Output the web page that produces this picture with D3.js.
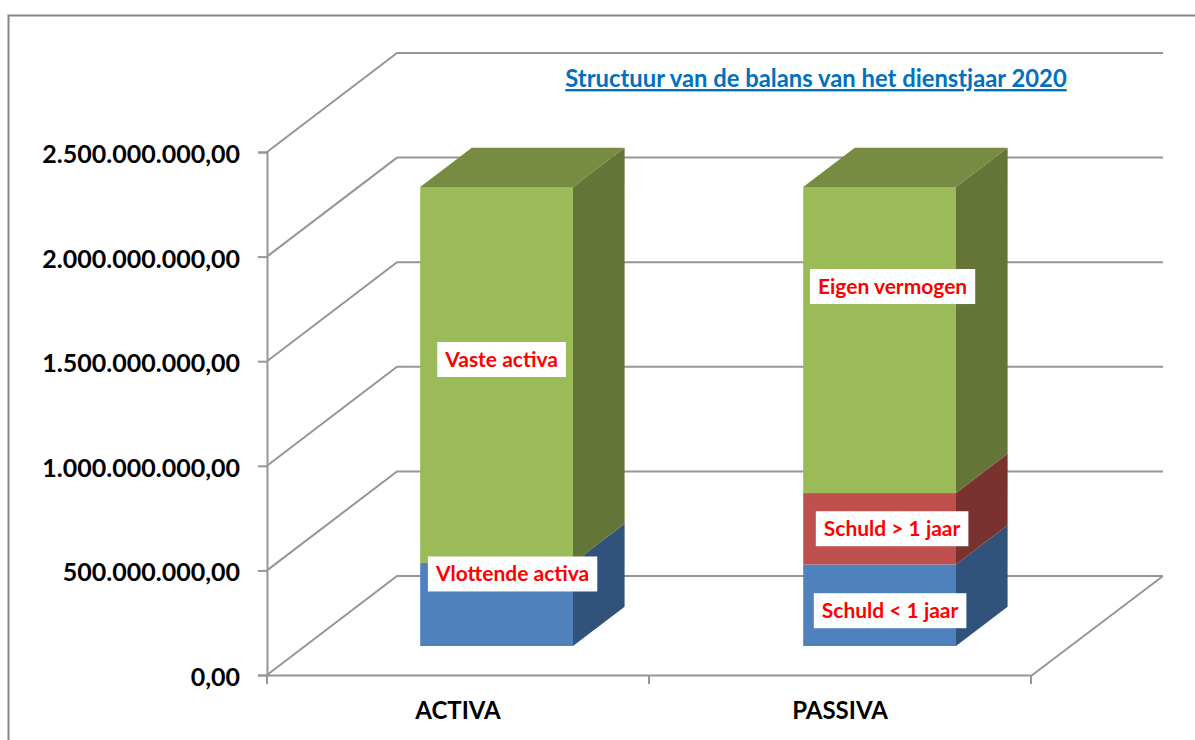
<!DOCTYPE html>
<html>
<head>
<meta charset="utf-8">
<script src="https://cdn.jsdelivr.net/npm/d3@7"></script>
<style>
  html, body { margin: 0; padding: 0; background: #fff; }
  svg { display: block; }
  svg text { font-family: Lato, "Noto Sans", sans-serif; font-weight: 700; }
</style>
</head>
<body>
<div id="chart"></div>
<script>
// values
const categories = ["ACTIVA", "PASSIVA"];
const seriesKeys = ["kort", "lang", "vast"];
const kortValues = [397000000, 390000000];
const langValues = [0, 341000000];
const vastValues = [1797000000, 1463000000];
const kortLabels = ["Vlottende activa", "Schuld < 1 jaar"];
const langLabels = ["", "Schuld > 1 jaar"];
const vastLabels = ["Vaste activa", "Eigen vermogen"];
const yTicks = [0, 500000000, 1000000000, 1500000000, 2000000000, 2500000000];
const titleText = "Structuur van de balans van het dienstjaar 2020";

const WIDTH = 1195;
const HEIGHT = 740;
const PLOT = { left: 267, right: 1031, top: 152, bottom: 675 };
// floor depth of the fake 3D box
const DEPTH = { x: 130, y: -99 };
// where the bars sit inside that depth, as a fraction
const BAR_FRONT = 0.293;
const BAR_BACK = 0.69;

const COLORS = {
  kort: { front: "#4f81bd", side: "#31527a" },
  lang: { front: "#c0504d", side: "#7a322f" },
  vast: { front: "#9bbb59", side: "#647537", top: "#778c42" }
};

// labels were dragged by hand in the original, so they are nudged off the centre
const NUDGE = {
  kort: [[16, -30.5], [10.5, 5.5]],
  lang: [[0, 0], [12.5, 0]],
  vast: [[5, -15.5], [13, -53.5]]
};

const labelsByKey = { kort: kortLabels, lang: langLabels, vast: vastLabels };

const rows = categories.map((c, i) => ({
  category: c, index: i, kort: kortValues[i], lang: langValues[i], vast: vastValues[i]
}));

const stacked = d3.stack().keys(seriesKeys)(rows);

const x = d3.scaleBand()
  .domain(categories)
  .range([PLOT.left, PLOT.right]);

// the bars run a touch wider than the axis in the original
const xBars = d3.scaleBand()
  .domain(categories)
  .range([PLOT.left, PLOT.right + 2]);

const y = d3.scaleLinear()
  .domain([0, 2500000000])
  .range([PLOT.bottom, PLOT.top]);

const nl = d3.formatLocale({ decimal: ",", thousands: ".", grouping: [3], currency: ["€", ""] });
const barWidth = x.bandwidth() * 0.4;

const svg = d3.select("#chart")
  .append("svg")
  .attr("width", WIDTH)
  .attr("height", HEIGHT)
  .attr("viewBox", "0 0 " + WIDTH + " " + HEIGHT);

// outer frame, runs off the right and bottom of the picture
svg.append("path")
  .attr("d", "M8.5," + HEIGHT + "V15.5H" + WIDTH)
  .attr("fill", "none")
  .attr("stroke", "#868686")
  .attr("stroke-width", 2);

// gridlines: up the left wall, then along the back wall
svg.append("g")
  .selectAll("path")
  .data(yTicks)
  .join("path")
  .attr("d", d => d3.line()([
    [PLOT.left, y(d)],
    [PLOT.left + DEPTH.x, y(d) + DEPTH.y],
    [PLOT.right + DEPTH.x + 2, y(d) + DEPTH.y]
  ]))
  .attr("fill", "none")
  .attr("stroke", "#969696")
  .attr("stroke-width", 2);

// right edge of the floor
svg.append("path")
  .attr("d", d3.line()([
    [PLOT.right, y(0) + 1],
    [PLOT.right + DEPTH.x + 2, y(0) + DEPTH.y]
  ]))
  .attr("fill", "none")
  .attr("stroke", "#969696")
  .attr("stroke-width", 2);

const yAxis = svg.append("g")
  .attr("transform", "translate(" + PLOT.left + ",0)")
  .call(d3.axisLeft(y).tickValues(yTicks).tickFormat(nl.format(",.2f")).tickSize(9).tickPadding(18));

const xAxis = svg.append("g")
  .attr("transform", "translate(0," + PLOT.bottom + ")")
  .call(d3.axisBottom(x).tickValues([]).tickSizeOuter(0));

// band edges get the tick marks, the names sit in the middle of the band
xAxis.selectAll(".edge")
  .data([PLOT.left, x(categories[1]), PLOT.right])
  .join("line")
  .attr("class", "edge")
  .attr("x1", d => d)
  .attr("x2", d => d)
  .attr("y1", 0)
  .attr("y2", 9);

xAxis.selectAll(".name")
  .data(categories)
  .join("text")
  .attr("class", "name")
  .attr("x", d => x(d) + x.bandwidth() / 2)
  .attr("y", 44)
  .attr("text-anchor", "middle")
  .text(d => d);

svg.selectAll(".domain, .tick line, .edge")
  .attr("stroke", "#969696")
  .attr("stroke-width", 2);

yAxis.selectAll("text")
  .attr("fill", "#000")
  .attr("dy", "0.42em")
  .style("font-size", "25px");

xAxis.selectAll("text")
  .attr("fill", "#000")
  .style("font-size", "24px");

// project a value at a given depth fraction onto the screen
function px(category, offset, depth) {
  return xBars(category) + xBars.bandwidth() / 2 + offset + DEPTH.x * depth;
}
function py(value, depth) {
  return y(value) + DEPTH.y * depth;
}

const bars = svg.append("g");

stacked.forEach(function(layer) {
  const key = layer.key;
  layer.forEach(function(d) {
    if (d[1] === d[0]) return;
    const c = d.data.category;
    const xl = px(c, -barWidth / 2, BAR_FRONT);
    const xr = px(c, barWidth / 2, BAR_FRONT);
    const xbr = px(c, barWidth / 2, BAR_BACK);
    const xbl = px(c, -barWidth / 2, BAR_BACK);

    // right side
    bars.append("path")
      .attr("d", d3.line()([
        [xr, py(d[0], BAR_FRONT)], [xbr, py(d[0], BAR_BACK)],
        [xbr, py(d[1], BAR_BACK)], [xr, py(d[1], BAR_FRONT)]
      ]) + "Z")
      .attr("fill", COLORS[key].side);

    // front
    bars.append("rect")
      .attr("x", xl)
      .attr("y", py(d[1], BAR_FRONT))
      .attr("width", barWidth)
      .attr("height", y(d[0]) - y(d[1]))
      .attr("fill", COLORS[key].front);

    // only the last series shows its top
    if (COLORS[key].top) {
      bars.append("path")
        .attr("d", d3.line()([
          [xl, py(d[1], BAR_FRONT)], [xr, py(d[1], BAR_FRONT)],
          [xbr, py(d[1], BAR_BACK)], [xbl, py(d[1], BAR_BACK)]
        ]) + "Z")
        .attr("fill", COLORS[key].top);
    }
  });
});

// data labels go last so they cover the bars
const labels = svg.append("g");

stacked.forEach(function(layer) {
  const key = layer.key;
  layer.forEach(function(d) {
    const i = d.data.index;
    const name = labelsByKey[key][i];
    if (!name) return;
    const cx = px(d.data.category, 0, BAR_FRONT) + NUDGE[key][i][0];
    const cy = py((d[0] + d[1]) / 2, BAR_FRONT) + NUDGE[key][i][1];

    const box = labels.append("rect").attr("fill", "#fff");
    const text = labels.append("text")
      .attr("x", cx)
      .attr("y", cy)
      .attr("dy", "0.35em")
      .attr("text-anchor", "middle")
      .attr("fill", "#ff0000")
      .style("font-size", "21px")
      .text(name);

    const w = text.node().getComputedTextLength();
    box.attr("x", cx - w / 2 - 8)
      .attr("y", cy - 17.5)
      .attr("width", w + 16)
      .attr("height", 35);
  });
});

svg.append("text")
  .attr("x", 816)
  .attr("y", 87)
  .attr("text-anchor", "middle")
  .attr("fill", "#0070c0")
  .style("font-size", "23.8px")
  .style("text-decoration", "underline")
  .text(titleText);
</script>
</body>
</html>
